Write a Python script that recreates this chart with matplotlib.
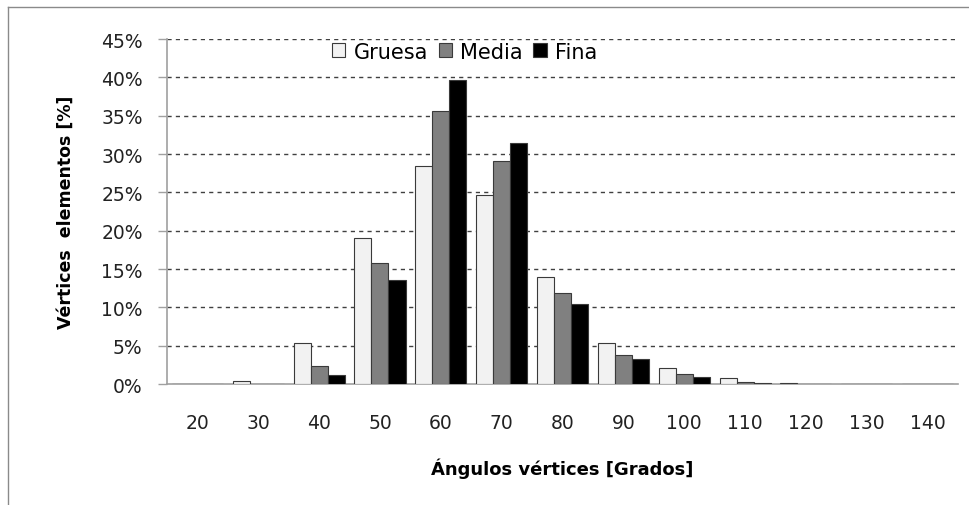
import matplotlib.pyplot as plt
import numpy as np
from matplotlib.ticker import PercentFormatter

# Data
angles = ['20', '30', '40', '50', '60', '70', '80', '90', '100', '110', '120', '130', '140']
gruesa = [0.0, 0.4, 5.4, 19.0, 28.4, 24.7, 13.9, 5.4, 2.1, 0.74, 0.17, 0.03, 0.0]
media = [0.0, 0.05, 2.3, 15.8, 35.6, 29.1, 11.9, 3.8, 1.3, 0.3, 0.05, 0.0, 0.0]
fina = [0.0, 0.03, 1.2, 13.6, 39.7, 31.4, 10.5, 3.2, 0.9, 0.13, 0.03, 0.0, 0.0]

plt.rcParams['font.family'] = ['DejaVu Sans']

fig = plt.figure(figsize=(9.69, 5.06), dpi=100)
ax = fig.add_axes([0.1723, 0.2391, 0.8164, 0.6818])

x = np.arange(len(angles))
w = 0.28
edge = '#3a3a3a'
ax.bar(x - w, np.array(gruesa) / 100, w, color='#f2f2f2', edgecolor=edge, linewidth=0.8, label='Gruesa', zorder=3)
ax.bar(x, np.array(media) / 100, w, color='#808080', edgecolor=edge, linewidth=0.8, label='Media', zorder=3)
ax.bar(x + w, np.array(fina) / 100, w, color='#000000', edgecolor=edge, linewidth=0.8, label='Fina', zorder=3)

ax.set_xlim(-0.5, len(angles) - 0.5)
ax.set_ylim(0, 0.45)
ax.set_yticks(np.arange(0, 0.451, 0.05))
ax.yaxis.set_major_formatter(PercentFormatter(1.0, decimals=0))
ax.set_xticks(x)
ax.set_xticklabels(angles)

for y in np.arange(0.05, 0.451, 0.05):
    ax.axhline(y, color='#404040', linestyle=(0, (3, 3)), linewidth=1.0, zorder=1)

for side in ['top', 'right']:
    ax.spines[side].set_visible(False)
ax.spines['left'].set_color('#a0a0a0')
ax.spines['bottom'].set_color('#a0a0a0')
ax.spines['left'].set_linewidth(1.2)
ax.spines['bottom'].set_linewidth(1.2)

ax.tick_params(axis='y', direction='out', length=6.5, width=1.0, color='#a0a0a0',
               labelsize=13.5, pad=11, labelcolor='#222222')
ax.tick_params(axis='x', length=0, labelsize=13.5, pad=21, labelcolor='#222222')

ax.set_ylabel('Vértices  elementos [%]', fontsize=12.5, fontweight='bold', labelpad=19)
ax.set_xlabel('Ángulos vértices [Grados]', fontsize=13, fontweight='bold', labelpad=18)

ax.legend(loc='upper left', bbox_to_anchor=(0.19, 1.035), ncol=3, frameon=False,
          fontsize=15, handlelength=0.65, handleheight=0.65, handletextpad=0.4,
          columnspacing=0.5, borderaxespad=0.3)

# outer chart border (left and top visible)
fig.add_artist(plt.Line2D([8 / 969, 8 / 969], [0, 1 - 8 / 506], color='#8a8a8a', linewidth=1.0,
                          transform=fig.transFigure))
fig.add_artist(plt.Line2D([8 / 969, 1], [1 - 8 / 506, 1 - 8 / 506], color='#8a8a8a', linewidth=1.0,
                          transform=fig.transFigure))

fig.savefig('out.png', dpi=100, facecolor='white')
